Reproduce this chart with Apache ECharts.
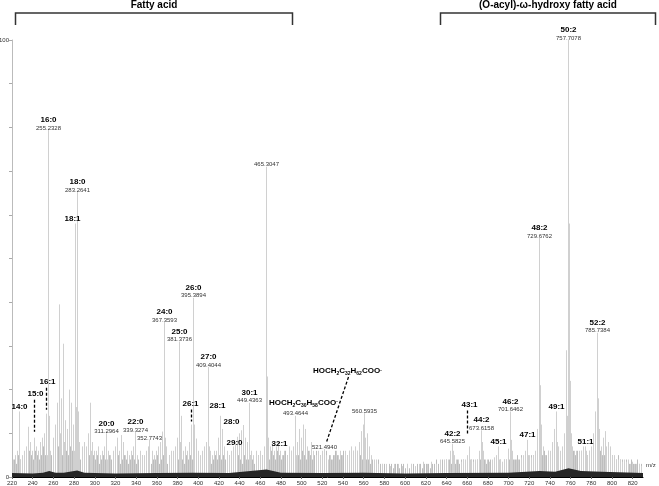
<!DOCTYPE html>
<html>
<head>
<meta charset="utf-8">
<script src="https://cdn.jsdelivr.net/npm/echarts@6/dist/echarts.min.js"></script>
<style>
  html, body { margin: 0; padding: 0; background: #fff; }
  #main { width: 659px; height: 486px; }
</style>
</head>
<body>
<div id="main"></div>
<script>
// negative-ion mass spectrum, fatty acids and (O-acyl)-omega-hydroxy fatty acids

// labelled and main peaks: [m/z, relative intensity %]
const peaks = [
  [221.2, 4], [223.2, 5], [225.2, 6], [227.2, 15], [228.2, 4], [229.2, 5], [231.2, 6], [233.2, 7],
  [235.2, 11.5], [237.2, 8], [239.2, 6], [241.2, 9], [242.2, 4], [243.2, 7], [245.2, 6], [247.2, 8],
  [249.2, 9], [251.2, 10], [253.2, 14.5], [254.2, 5], [255.23, 79.4], [256.24, 14], [257.2, 6],
  [259.2, 9], [261.2, 12], [263.2, 17], [265.15, 39.5], [266.2, 10], [267.2, 18], [269.2, 30.5],
  [270.2, 8], [271.2, 13], [273.2, 11], [275.2, 20], [277.2, 17], [279.2, 12], [280.2, 6],
  [281.25, 58], [282.26, 16], [283.26, 65.2], [284.27, 15], [285.2, 8], [287.2, 7], [289.2, 8],
  [291.2, 7], [293.2, 10], [295.2, 17], [296.2, 6], [297.2, 8], [299.2, 6],
  [301.2, 6], [303.2, 7], [305.2, 5], [307.2, 6], [309.2, 7], [311.3, 10], [312.3, 4], [313.2, 6],
  [315.2, 5], [317.2, 6], [319.2, 7], [321.2, 9], [323.2, 6], [325.2, 9.6], [327.2, 8], [329.2, 5],
  [331.2, 6], [333.2, 5], [335.2, 6], [337.2, 7], [339.33, 10.3], [341.3, 5], [343.3, 6], [345.3, 5],
  [347.3, 5], [349.3, 6], [351.3, 7], [352.77, 8.5], [355.3, 6], [357.3, 5], [359.3, 6], [361.3, 7],
  [363.3, 8], [365.3, 10.4], [367.36, 35.5], [368.36, 9], [369.3, 7], [371.3, 5], [373.3, 6],
  [375.3, 6], [377.3, 7], [379.3, 9], [381.37, 31], [382.4, 8], [383.3, 14], [385.3, 6], [387.3, 7],
  [389.3, 6], [391.3, 8], [393.37, 12], [395.39, 41], [396.4, 12], [397.4, 8.8], [399.4, 6],
  [401.4, 5], [403.4, 6], [405.4, 7], [407.4, 8], [409.4, 25.2], [410.4, 7], [411.4, 6], [413.4, 5],
  [415.4, 6], [417.4, 6], [419.4, 9],
  [421.4, 14], [423.4, 11], [425.4, 7], [427.4, 6], [429.4, 5], [431.4, 6], [433.4, 7], [435.4, 8],
  [437.4, 9.2], [439.4, 10], [441.4, 10.7], [443.4, 11.9], [445.4, 9], [447.4, 8], [449.44, 17],
  [450.4, 5], [451.4, 6], [453.4, 5], [455.4, 6], [457.4, 5], [459.4, 6], [461.4, 5], [463.4, 7],
  [465.3, 71], [466.3, 23], [467.3, 9], [469.4, 7], [471.4, 8], [473.4, 6], [475.4, 7], [477.45, 8],
  [479.4, 6], [481.4, 5], [483.4, 6], [485.4, 5], [487.4, 7], [489.4, 6], [491.4, 7], [493.46, 14],
  [494.5, 5], [495.4, 8], [497.4, 11], [499.4, 9], [501.4, 12], [503.4, 11], [505.4, 7], [507.4, 6],
  [509.4, 8], [511.4, 6], [513.4, 5], [515.4, 6], [517.4, 5], [519.4, 6], [521.49, 6.4],
  [523.5, 5], [525.5, 4], [527.5, 5], [529.5, 4], [531.5, 5], [533.5, 6], [535.5, 5], [537.5, 6],
  [539.5, 5], [541.5, 6], [543.5, 5], [545.5, 6], [547.5, 7], [549.5, 6], [551.5, 7], [553.5, 6],
  [555.5, 8], [557.5, 10.5], [559.5, 12], [560.59, 14.6], [561.6, 9], [563.5, 10], [565.5, 7],
  [567.5, 5], [569.5, 4], [571.5, 4], [573.5, 3], [577.5, 3], [581.5, 3], [585.5, 2.5], [589.5, 3],
  [593.5, 3], [597.5, 2.5], [601.5, 3], [605.5, 3], [609.5, 2.5], [613.5, 3], [617.5, 3.5],
  [621.5, 3], [625.5, 3.5], [629.5, 3], [633.6, 4], [637.6, 4],
  [639.6, 4], [641.6, 4], [643.6, 6], [645.58, 7.6], [646.6, 6], [647.6, 5], [649.6, 4], [651.6, 4],
  [653.6, 3.5], [655.6, 4], [657.6, 4], [659.6, 5], [661.6, 7], [662.6, 4], [663.6, 4], [665.6, 3.5],
  [667.6, 4], [669.6, 4], [671.6, 6], [673.62, 10.7], [674.6, 8], [675.6, 6], [677.6, 4], [679.6, 4],
  [681.6, 3.5], [683.6, 4], [685.6, 4.5], [687.6, 5], [689.6, 7], [690.6, 4], [691.6, 4], [693.6, 3.5],
  [695.6, 4], [697.6, 4], [699.6, 6.5], [701.65, 15], [702.65, 8.5], [703.6, 6], [705.6, 4],
  [707.6, 4], [709.6, 4], [711.6, 4.5], [713.6, 5], [715.7, 6], [717.7, 8.5], [718.7, 5], [719.7, 5],
  [721.7, 4.5], [723.7, 5], [725.7, 6], [727.7, 11], [729.68, 54.7], [730.68, 21], [731.7, 12],
  [733.7, 7], [735.7, 5], [737.7, 6], [739.7, 6], [741.7, 8], [743.7, 11], [745.69, 15], [746.7, 8],
  [747.7, 7], [749.7, 6], [751.7, 7], [753.7, 10], [755.7, 29], [756.7, 14], [757.71, 100],
  [758.71, 58], [759.7, 22], [760.7, 10], [761.7, 7], [763.7, 6], [765.7, 6], [767.7, 6], [769.7, 6],
  [771.7, 7], [773.7, 7], [774.7, 6], [775.7, 5], [777.7, 6], [779.7, 7], [781.7, 10], [783.7, 15],
  [785.74, 33], [786.74, 18], [787.7, 11], [789.7, 7], [791.7, 9], [793.7, 10.5], [794.7, 7],
  [795.7, 8], [797.7, 7], [799.7, 5], [801.7, 5], [803.7, 4], [805.7, 4], [807.7, 4], [809.7, 3.5],
  [811.7, 4], [813.7, 3.5], [815.7, 4], [817.7, 3], [819.7, 3.5], [821.7, 3], [823.7, 3], [825.7, 3],
  [827.7, 2.5]
];

// low-level peaks at even nominal masses, m/z 220 ... 830
const grassStart = 220;
const grassHeights = [
  3, 4, 3, 5, 4, 3, 5, 4, 6, 5, 4, 6, 5, 4, 5, 7, 5, 4, 6, 5,
  6, 5, 7, 6, 5, 8, 6, 5, 7, 6, 5, 6, 5, 4, 5, 6, 4, 5, 4, 5,
  4, 5, 3, 4, 5, 4, 3, 5, 4, 3, 4, 5, 3, 4, 5, 4, 3, 4, 5, 4,
  3, 4, 4, 5, 3, 4, 5, 3, 4, 4, 5, 3, 4, 5, 4, 3, 5, 4, 4, 5,
  4, 5, 4, 3, 5, 4, 5, 4, 3, 4, 5, 4, 3, 4, 4, 5, 3, 4, 5, 4,
  5, 4, 5, 4, 3, 5, 4, 5, 4, 5, 4, 3, 5, 4, 4, 5, 4, 3, 4, 5,
  4, 5, 6, 5, 4, 6, 5, 4, 6, 5, 4, 5, 6, 5, 4, 6, 5, 6, 5, 4,
  6, 5, 4, 6, 5, 4, 5, 6, 4, 5, 5, 4, 6, 5, 4, 5, 6, 5, 4, 5,
  6, 5, 5, 6, 5, 6, 5, 6, 5, 4, 5, 4, 4, 3, 4, 3, 3, 4, 3, 3,
  3, 2, 3, 3, 2, 3, 3, 2, 3, 3, 2, 3, 2, 3, 3, 2, 3, 3, 2, 3,
  3, 3, 2, 3, 3, 4, 3, 3, 4, 3, 4, 4, 3, 4, 3, 4, 3, 4, 4, 3,
  4, 3, 4, 4, 3, 4, 4, 3, 4, 3, 4, 4, 3, 4, 4, 3, 4, 3, 4, 4,
  4, 5, 4, 4, 5, 4, 5, 4, 5, 5, 4, 5, 5, 4, 6, 5, 5, 6, 5, 6,
  5, 6, 5, 6, 6, 5, 6, 5, 6, 5, 6, 6, 5, 6, 5, 6, 5, 6, 5, 6,
  6, 5, 6, 5, 6, 5, 5, 4, 5, 4, 5, 4, 4, 5, 4, 4, 3, 4, 3, 4,
  3, 3, 4, 3, 3, 3
];

// dense noise floor along the baseline: [m/z, %]
const noiseFloor = [
  [220, 0.9], [240, 0.8], [250, 1.0], [256, 1.4], [262, 1.0], [270, 1.0], [283, 1.5], [290, 1.0],
  [320, 0.8], [360, 0.9], [395, 1.0], [430, 0.9], [466, 1.7], [480, 1.0], [520, 0.9], [560, 1.0],
  [600, 0.8], [640, 0.9], [700, 1.0], [730, 1.4], [745, 1.2], [758, 2.0], [770, 1.4], [790, 1.2],
  [830, 0.9]
];

// peak annotations: [peak m/z, name, measured mass]
const notes = [
  [227.2, '14:0', ''],
  [241.2, '15:0', ''],
  [253.2, '16:1', ''],
  [255.23, '16:0', '255.2328'],
  [281.25, '18:1', ''],
  [283.26, '18:0', '283.2641'],
  [311.3, '20:0', '311.2964'],
  [339.33, '22:0', '339.3274'],
  [352.77, '', '352.7743'],
  [367.36, '24:0', '367.3593'],
  [381.37, '25:0', '381.3736'],
  [393.37, '26:1', ''],
  [395.39, '26:0', '395.3894'],
  [409.4, '27:0', '409.4044'],
  [421.4, '28:1', ''],
  [423.4, '28:0', ''],
  [437.4, '29:0', ''],
  [449.44, '30:1', '449.4363'],
  [465.3, '', '465.3047'],
  [477.45, '32:1', ''],
  [493.46, '{b|HOCH}{s|2}{b|C}{s|30}{b|H}{s|58}{b|COO}{u|-}', '493.4644'],
  [521.49, '{b|HOCH}{s|2}{b|C}{s|32}{b|H}{s|62}{b|COO}{u|-}', '521.4940'],
  [560.59, '', '560.5935'],
  [645.58, '42:2', '645.5825'],
  [661.6, '43:1', ''],
  [673.62, '44:2', '673.6158'],
  [689.6, '45:1', ''],
  [701.65, '46:2', '701.6462'],
  [717.7, '47:1', ''],
  [729.68, '48:2', '729.6762'],
  [745.69, '49:1', ''],
  [757.71, '50:2', '757.7078'],
  [773.7, '51:1', ''],
  [785.74, '52:2', '785.7384']
];

// class brackets: [from m/z, to m/z, title]
const groups = [
  [222.9, 490.5, 'Fatty acid'],
  [633.5, 842, '(O-acyl)-\u03c9-hydroxy fatty acid']
];

// label placement tweaks (pixels, relative to the peak top)
const nudge = {
  '241.2': { dx: 1, dy: -44, lead: [0, -38, 0, -6] },
  '253.2': { dx: 1, dy: -32, lead: [0, -26, 0, -4] },
  '393.37': { dx: -1, dy: -21, lead: [0, -15, 0, -3] },
  '661.6': { dx: 0, dy: -42, lead: [-2, -36, -2, -13] },
  '281.25': { dx: -3 },
  '421.4': { dx: -3, dy: -10 },
  '423.4': { dx: 9, dy: -7 },
  '437.4': { dx: -3, dy: 6 },
  '477.45': { dx: 1, dy: 2 },
  '493.46': { dx: 8, dy: -13 },
  '521.49': { dx: 23, dy: -78, lead: [24, -72, 2, -7] }
};

const FONT = 'Liberation Sans, Arial, sans-serif';
const grass = grassHeights.map((h, i) => [grassStart + 2 * i, h]);
const topOf = {};
peaks.forEach(p => { topOf[p[0]] = p[1]; });

function sticks(data, color, z) {
  return {
    type: 'custom',
    data: data,
    z: z,
    silent: true,
    clip: true,
    encode: { x: 0, y: 1 },
    renderItem: function (params, api) {
      const a = api.coord([api.value(0), 0]);
      const b = api.coord([api.value(0), api.value(1)]);
      const x = Math.round(a[0]) + 0.5;
      return {
        type: 'line',
        shape: { x1: x, y1: a[1], x2: x, y2: b[1] },
        style: { stroke: color, lineWidth: 1 }
      };
    }
  };
}

const rich = {
  b: { fontFamily: FONT, fontSize: 8, fontWeight: 'bold', lineHeight: 8, verticalAlign: 'top', fill: '#000' },
  s: { fontFamily: FONT, fontSize: 5, fontWeight: 'bold', lineHeight: 4, padding: [4, 0, 0, 0], verticalAlign: 'top', fill: '#000' },
  u: { fontFamily: FONT, fontSize: 6, fontWeight: 'bold', lineHeight: 4, verticalAlign: 'top', fill: '#000' }
};

const chart = echarts.init(document.getElementById('main'), null, { renderer: 'canvas' });

chart.setOption({
  animation: false,
  backgroundColor: '#fff',
  grid: { left: 12, right: 16, top: 40, bottom: 9, containLabel: false, outerBoundsMode: 'none' },
  xAxis: {
    type: 'value',
    min: 220,
    max: 830,
    interval: 20,
    name: 'm/z',
    nameLocation: 'end',
    nameGap: 3,
    nameTextStyle: { fontFamily: FONT, fontSize: 6, color: '#333', verticalAlign: 'bottom', padding: [0, 0, 9, 0] },
    splitLine: { show: false },
    axisLine: { lineStyle: { color: '#000', width: 1 } },
    axisTick: { length: 2, lineStyle: { color: '#666' } },
    axisLabel: {
      fontFamily: FONT, fontSize: 6, color: '#333', margin: 3,
      showMaxLabel: false
    }
  },
  yAxis: {
    type: 'value',
    min: 0,
    max: 100,
    interval: 10,
    name: '%',
    nameLocation: 'middle',
    nameGap: 5,
    nameRotate: 90,
    nameTextStyle: { fontFamily: FONT, fontSize: 6, color: '#333' },
    splitLine: { show: false },
    axisLine: { lineStyle: { color: '#bbb', width: 1 } },
    axisTick: { length: 3, lineStyle: { color: '#aaa' } },
    axisLabel: {
      fontFamily: FONT, fontSize: 6, color: '#333', margin: 3,
      formatter: v => (v === 0 || v === 100 ? String(v) : '')
    }
  },
  series: [
    sticks(grass, '#bdbdbd', 1),
    sticks(peaks, '#d0d0d0', 2),
    {
      type: 'line',
      data: noiseFloor,
      z: 3,
      silent: true,
      symbol: 'none',
      smooth: false,
      lineStyle: { width: 0 },
      areaStyle: { color: '#262626', opacity: 1 }
    },
    {
      // class brackets and titles
      type: 'custom',
      z: 5,
      silent: true,
      clip: false,
      data: groups.map(g => [g[0], g[1]]),
      encode: { x: [0, 1] },
      renderItem: function (params, api) {
        const g = groups[params.dataIndex];
        const x1 = Math.round(api.coord([g[0], 100])[0]) + 0.5;
        const x2 = Math.round(api.coord([g[1], 100])[0]) + 0.5;
        return {
          type: 'group',
          children: [
            {
              type: 'polyline',
              shape: { points: [[x1, 25], [x1, 13], [x2, 13], [x2, 25]] },
              style: { stroke: '#333', lineWidth: 1.5, fill: null }
            },
            {
              type: 'text',
              style: {
                x: (x1 + x2) / 2, y: 5, text: g[2],
                fontFamily: FONT, fontSize: 10, fontWeight: 'bold',
                align: 'center', verticalAlign: 'middle', fill: '#000'
              }
            }
          ]
        };
      }
    },
    {
      // peak annotations
      type: 'custom',
      z: 6,
      silent: true,
      clip: false,
      data: notes.map(n => [n[0], topOf[n[0]]]),
      encode: { x: 0, y: 1 },
      renderItem: function (params, api) {
        const n = notes[params.dataIndex];
        const p = api.coord([api.value(0), api.value(1)]);
        const px = Math.round(p[0]) + 0.5;
        const py = p[1];
        const k = nudge[String(n[0])] || {};
        const dx = k.dx || 0;
        const children = [];
        if (n[2]) {
          children.push({
            type: 'text',
            style: {
              x: px, y: py - 2, text: n[2],
              fontFamily: FONT, fontSize: 6, fill: '#333',
              align: 'center', verticalAlign: 'middle'
            }
          });
        }
        if (n[1]) {
          const ny = k.dy !== undefined ? py + k.dy : (n[2] ? py - 10 : py - 5);
          const isRich = n[1].indexOf('{') >= 0;
          children.push({
            type: 'text',
            style: isRich ? {
              x: px + dx, y: ny, text: n[1], rich: rich,
              align: 'center', verticalAlign: 'middle'
            } : {
              x: px + dx, y: ny, text: n[1],
              fontFamily: FONT, fontSize: 8, fontWeight: 'bold', fill: '#000',
              align: 'center', verticalAlign: 'middle'
            }
          });
        }
        if (k.lead) {
          const l = k.lead;
          children.push({
            type: 'line',
            shape: { x1: px + l[0], y1: py + l[1], x2: px + l[2], y2: py + l[3] },
            style: { stroke: '#000', lineWidth: 1.3, lineDash: [3, 2] }
          });
        }
        return { type: 'group', children: children };
      }
    }
  ]
});
</script>
</body>
</html>
